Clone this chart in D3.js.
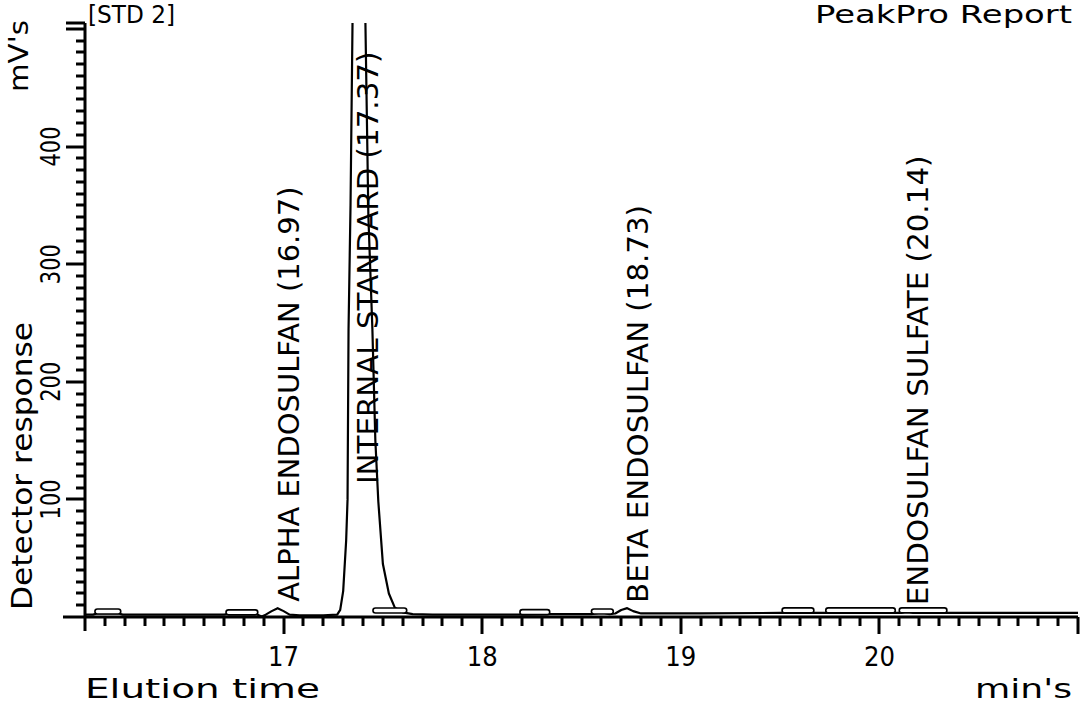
<!DOCTYPE html>
<html>
<head>
<meta charset="utf-8">
<script src="https://cdn.jsdelivr.net/npm/d3@7"></script>
<style>
  body { margin: 0; background: #fff; }
  svg text { font-family: "DejaVu Sans", "Liberation Sans", sans-serif; fill: #000; }
</style>
</head>
<body>
<div id="chart"></div>
<script>
document.addEventListener('DOMContentLoaded', function() {
    const width = 1081;
    const height = 705;

    // chromatogram trace (time in min, response in mV)
    const traceTime = [16.00, 16.04, 16.06, 16.17, 16.19, 16.40, 16.70, 16.72, 16.86, 16.89,
        16.91, 16.94, 16.97, 17.00, 17.03, 17.08, 17.20, 17.27, 17.285, 17.30,
        17.315, 17.322, 17.327, 17.337, 17.347, 17.38, 17.412, 17.427, 17.447, 17.462,
        17.477, 17.50, 17.53, 17.56, 17.60, 17.65, 17.75, 18.00, 18.20, 18.35,
        18.55, 18.60, 18.64, 18.67, 18.70, 18.73, 18.76, 18.80, 18.85, 19.10,
        19.50, 19.70, 20.00, 20.11, 20.14, 20.17, 20.40, 20.70, 21.00];
    const traceMv = [2, 2, 3, 3, 2, 2, 2, 2.5, 2.5, 0.5,
        2, 5, 7.5, 5, 2, 1.5, 1.5, 2, 6, 22,
        65, 100, 245, 350, 505, 720, 505, 340, 245, 150,
        98, 45, 20, 8, 4, 2.5, 2, 2, 2, 2.5,
        2.5, 4, 2.5, 3, 6, 7.5, 5, 3, 3, 3,
        3.5, 3.5, 3.5, 3.5, 5, 3.5, 3.5, 3.5, 3.5];

    // integration baseline marks
    const segStart = [16.05, 16.71, 17.45, 18.19, 18.55, 19.51, 19.73, 20.10];
    const segEnd   = [16.18, 16.87, 17.62, 18.34, 18.66, 19.67, 20.08, 20.34];

    // peak annotations
    const peakNames = ["ALPHA ENDOSULFAN (16.97)", "INTERNAL STANDARD (17.37)",
        "BETA ENDOSULFAN (18.73)", "ENDOSULFAN SULFATE (20.14)"];
    const peakTimes = [16.97, 17.37, 18.73, 20.14];
    const peakLabelMv = [13, 113, 12, 10];

    const xTickLabels = [17, 18, 19, 20];
    const yTickLabels = [100, 200, 300, 400];

    const svg = d3.select("#chart")
        .append("svg")
        .attr("width", width)
        .attr("height", height);

    const x = d3.scaleLinear().domain([16, 21]).range([85, 1078]);
    const y = d3.scaleLinear().domain([0, 505]).range([617, 23]);

    // tick positions: every 0.1 min and every 10 mV, longer at whole numbers
    const xMinor = d3.range(161, 211).map(d => d / 10);
    const yMinor = d3.range(10, 510, 10);

    svg.selectAll(".xt")
        .data(xMinor)
        .enter().append("line")
        .attr("class", "xt")
        .attr("x1", d => Math.round(x(d))).attr("x2", d => Math.round(x(d)))
        .attr("y1", y(0))
        .attr("y2", d => y(0) + (Math.abs(d - Math.round(d)) < 1e-6 ? 17 : 9))
        .attr("stroke", "#000")
        .attr("stroke-width", 3);

    svg.selectAll(".yt")
        .data(yMinor.concat([505]))
        .enter().append("line")
        .attr("class", "yt")
        .attr("y1", d => Math.round(y(d))).attr("y2", d => Math.round(y(d)))
        .attr("x1", x(16))
        .attr("x2", d => x(16) - (d % 100 === 0 || d === 505 ? 19 : 9))
        .attr("stroke", "#000")
        .attr("stroke-width", 3);

    svg.append("line")
        .attr("x1", 63).attr("x2", x(21))
        .attr("y1", y(0)).attr("y2", y(0))
        .attr("stroke", "#000")
        .attr("stroke-width", 3);

    svg.append("line")
        .attr("x1", x(16)).attr("x2", x(16))
        .attr("y1", y(505)).attr("y2", 631)
        .attr("stroke", "#000")
        .attr("stroke-width", 3);

    // tick labels
    svg.selectAll(".xlab")
        .data(xTickLabels)
        .enter().append("text")
        .attr("x", d => x(d))
        .attr("y", 666)
        .attr("text-anchor", "middle")
        .attr("font-size", 27)
        .attr("textLength", 31)
        .attr("lengthAdjust", "spacingAndGlyphs")
        .text(d => d);

    svg.selectAll(".ylab")
        .data(yTickLabels)
        .enter().append("text")
        .attr("transform", d => `translate(60,${y(d)}) rotate(-90)`)
        .attr("text-anchor", "middle")
        .attr("font-size", 27)
        .attr("textLength", 40)
        .attr("lengthAdjust", "spacingAndGlyphs")
        .text(d => d);

    // trace, clipped at the top of the scale
    svg.append("clipPath").attr("id", "plotclip")
        .append("rect")
        .attr("x", x(16)).attr("y", y(505))
        .attr("width", x(21) - x(16)).attr("height", 640 - y(505));

    const line = d3.line()
        .x((d, i) => x(traceTime[i]))
        .y(d => y(d));

    svg.append("path")
        .datum(traceMv)
        .attr("clip-path", "url(#plotclip)")
        .attr("d", line)
        .attr("fill", "none")
        .attr("stroke", "#000")
        .attr("stroke-width", 2.2)
        .attr("stroke-linejoin", "round");

    const level = d3.scaleLinear().domain(traceTime).range(traceMv);
    svg.selectAll(".seg")
        .data(segStart)
        .enter().append("rect")
        .attr("x", d => x(d))
        .attr("width", (d, i) => x(segEnd[i]) - x(d))
        .attr("y", (d, i) => y(Math.min(level(d), level(segEnd[i]))) - 5)
        .attr("height", 5)
        .attr("rx", 2.5)
        .attr("fill", "#fff")
        .attr("stroke", "#000")
        .attr("stroke-width", 1.6);

    // peak labels
    svg.selectAll(".peak")
        .data(peakNames)
        .enter().append("text")
        .attr("transform", (d, i) => `translate(${x(peakTimes[i]) + 21},${y(peakLabelMv[i])}) rotate(-90)`)
        .attr("font-size", 28)
        .attr("textLength", d => d.length * 17.3)
        .attr("lengthAdjust", "spacingAndGlyphs")
        .text(d => d);

    // titles
    svg.append("text")
        .attr("x", 88).attr("y", 23)
        .attr("font-size", 24)
        .attr("textLength", 87)
        .attr("lengthAdjust", "spacingAndGlyphs")
        .text("[STD 2]");

    svg.append("text")
        .attr("x", 1072).attr("y", 23)
        .attr("text-anchor", "end")
        .attr("font-size", 24)
        .attr("textLength", 257)
        .attr("lengthAdjust", "spacingAndGlyphs")
        .text("PeakPro Report");

    svg.append("text")
        .attr("x", 85).attr("y", 698)
        .attr("font-size", 26)
        .attr("textLength", 235)
        .attr("lengthAdjust", "spacingAndGlyphs")
        .text("Elution time");

    svg.append("text")
        .attr("x", 1072).attr("y", 698)
        .attr("text-anchor", "end")
        .attr("font-size", 26)
        .attr("textLength", 97)
        .attr("lengthAdjust", "spacingAndGlyphs")
        .text("min's");

    svg.append("text")
        .attr("transform", "translate(32,610) rotate(-90)")
        .attr("font-size", 28)
        .attr("textLength", 288)
        .attr("lengthAdjust", "spacingAndGlyphs")
        .text("Detector response");

    svg.append("text")
        .attr("transform", "translate(28,92) rotate(-90)")
        .attr("font-size", 27)
        .attr("textLength", 72)
        .attr("lengthAdjust", "spacingAndGlyphs")
        .text("mV's");
});
</script>
</body>
</html>
